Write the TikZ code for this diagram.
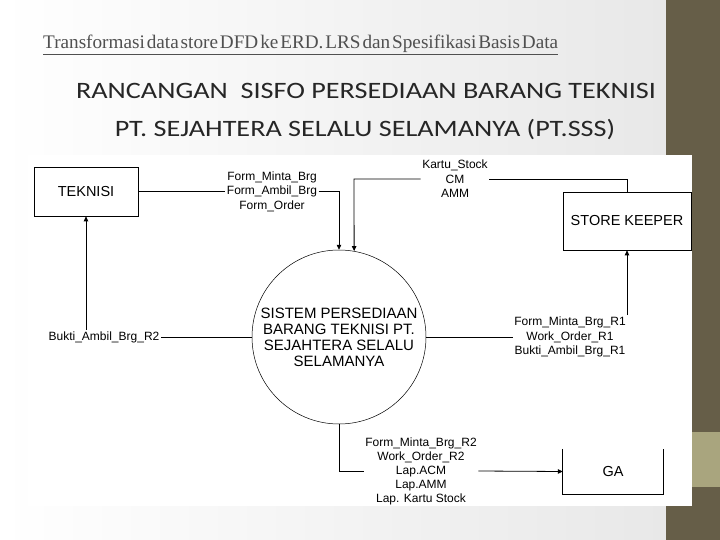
\documentclass[tikz,border=0pt]{standalone}
\usepackage{fontspec}
\setmainfont{Liberation Sans}
\newfontfamily\titlefont[FakeStretch=1.2]{Carlito}
\newfontfamily\headfont[WordSpace=0.4]{Liberation Serif}
\usetikzlibrary{positioning,arrows.meta}
\definecolor{bandDark}{HTML}{665E48}
\definecolor{bandLight}{HTML}{A9A57E}
\definecolor{headGray}{HTML}{505050}
\tikzset{
  entity/.style={draw, line width=0.7pt, minimum width=104pt, minimum height=49pt,
    font=\fontsize{14.5}{16}\selectfont},
  flowlabel/.style={align=center, inner sep=1.5pt, font=\fontsize{12}{14.5}\selectfont},
  flow/.style={line width=0.8pt, -{Triangle[length=5pt,width=4.5pt]}},
  plain/.style={line width=0.8pt},
}
\begin{document}
\begin{tikzpicture}[x=1pt,y=-1pt]
    % Slide
        \useasboundingbox (0,0) rectangle (720,540);
        \shade[left color=white, right color=gray!18] (0,0) rectangle (666,540);
        \fill[bandDark] (666,0) rectangle (720,540);
        \fill[bandLight] (692,432) rectangle (720,487);
        \fill[white] (28,155) rectangle (692,506);
    % Titles
        \node[anchor=base west, inner sep=0, text=headGray, font=\headfont\fontsize{19.2}{22}\selectfont] (subtitle) at (43,49)
            {\underline{Transformasi data store DFD ke ERD. LRS dan Spesifikasi Basis Data}};
        \node[font=\titlefont\fontsize{23.5}{28}\selectfont, text=black!85] (title1) at (366,91) {RANCANGAN\ \ SISFO PERSEDIAAN BARANG TEKNISI};
        \node[font=\titlefont\fontsize{23.5}{28}\selectfont, text=black!85] (title2) at (365,130) {PT. SEJAHTERA SELALU SELAMANYA (PT.SSS)};
    % Entities
        \node[entity] (teknisi) at (86,191.5) {TEKNISI};
        \node[entity, minimum width=128pt, minimum height=58pt] (keeper) at (627,221) {STORE KEEPER};
        \node[minimum width=100pt, minimum height=45pt, font=\fontsize{14.5}{16}\selectfont] (ga) at (613,471.5) {GA};
        \draw[plain] (ga.north west) -- (ga.south west) -- (ga.south east) -- (ga.north east);
    % Process
        \node[circle, draw, line width=0.5pt, minimum size=174pt, inner sep=0, align=center,
            font=\fontsize{15}{16}\selectfont] (system) at (339,337)
            {SISTEM PERSEDIAAN\\BARANG TEKNISI PT.\\SEJAHTERA SELALU\\SELAMANYA};
    % Labels
        \node[flowlabel] (lblteknisi) at (272,191.5) {Form\_Minta\_Brg\\Form\_Ambil\_Brg\\Form\_Order};
        \node[flowlabel] (lblstock) at (455,179) {Kartu\_Stock\\CM\\AMM};
        \node[flowlabel] (lblback) at (104,337) {Bukti\_Ambil\_Brg\_R2};
        \node[flowlabel] (lblkeeper) at (570,337) {Form\_Minta\_Brg\_R1\\Work\_Order\_R1\\Bukti\_Ambil\_Brg\_R1};
        \node[flowlabel, font=\fontsize{12}{14}\selectfont] (lblga) at (421,471) {Form\_Minta\_Brg\_R2\\Work\_Order\_R2\\Lap.ACM\\Lap.AMM\\Lap. Kartu Stock};
    % Flows
        \coordinate (bendA) at (339,191.5);
        \coordinate (bendB) at (354,179);
        \coordinate (bendC) at (627,179);
        \coordinate (bendD) at (339,471);
        \draw[plain] (teknisi.east) -- (lblteknisi.west);
        \draw[flow] (lblteknisi.east) -- (bendA) -- (system.north);
        \draw[plain] (keeper.north) -- (bendC) -- (lblstock.east);
        \draw[flow] (lblstock.west) -- (bendB) -- (system.80);
        \draw[plain] (system.west) -- (lblback.east);
        \draw[flow] (lblback.north -| teknisi.south) -- (teknisi.south);
        \draw[plain] (system.east) -- (lblkeeper.west);
        \draw[flow] (lblkeeper.north -| keeper.south) -- (keeper.south);
        \draw[plain] (system.south) -- (bendD) -- (lblga.west);
        \draw[flow] (lblga.east) -- (ga.west);
\end{tikzpicture}
\end{document}
